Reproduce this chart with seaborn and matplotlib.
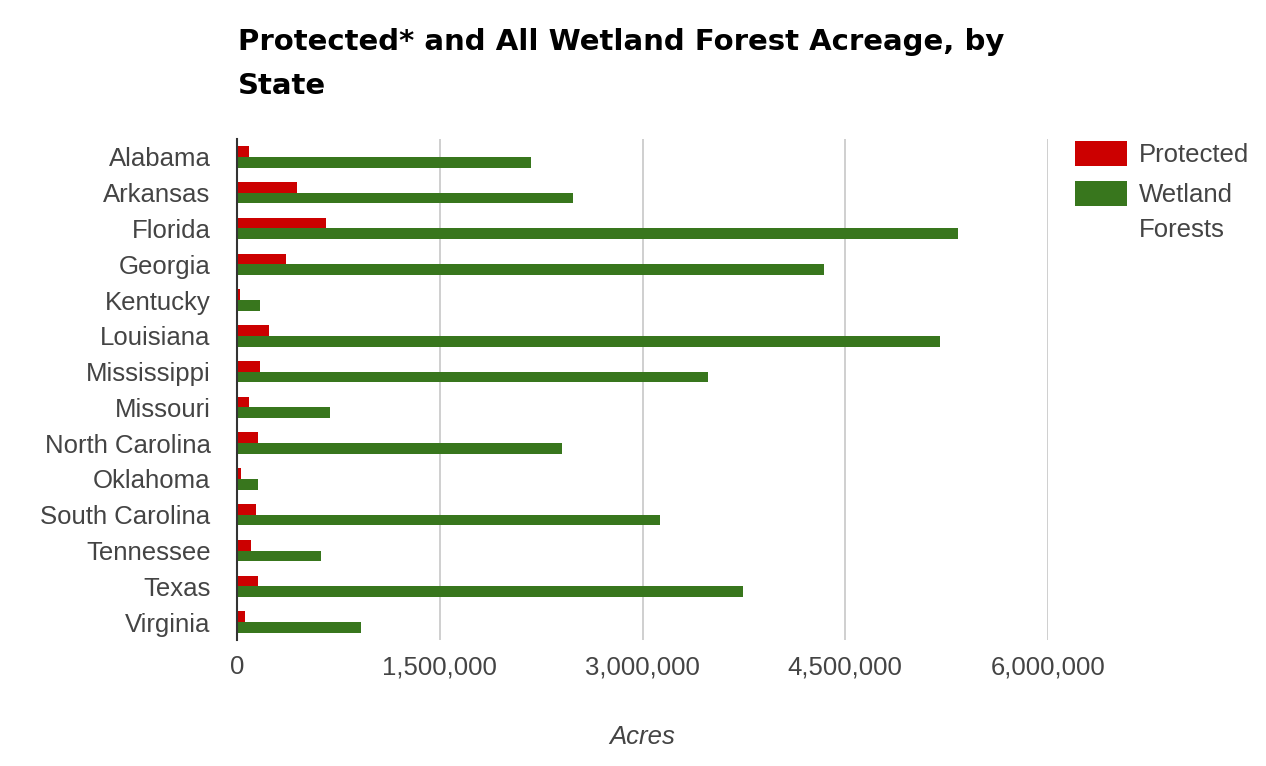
import matplotlib
matplotlib.use("Agg")
import matplotlib.pyplot as plt
import seaborn as sns
import pandas as pd
from matplotlib.ticker import FuncFormatter
from matplotlib.patches import Patch

states = ["Alabama", "Arkansas", "Florida", "Georgia", "Kentucky", "Louisiana",
          "Mississippi", "Missouri", "North Carolina", "Oklahoma", "South Carolina",
          "Tennessee", "Texas", "Virginia"]
protected = [89000, 443000, 655000, 365000, 22000, 236000, 170000, 89000,
             155000, 27000, 138000, 106000, 155000, 57000]
wetland = [2175000, 2483000, 5333000, 4345000, 170000, 5202000, 3488000, 687000,
           2401000, 155000, 3131000, 624000, 3746000, 916000]
series_names = ["Protected", "Wetland Forests"]
x_ticks = [0, 1500000, 3000000, 4500000, 6000000]
colors = ["#cc0000", "#38761d"]

df = pd.DataFrame({
    "State": states * 2,
    "Acres": protected + wetland,
    "Series": [series_names[0]] * len(states) + [series_names[1]] * len(states),
})

sns.set_theme(style="white")
plt.rcParams["font.family"] = ["Liberation Sans", "DejaVu Sans"]

FS = 18.5
W, H = 1266, 766
fig = plt.figure(figsize=(12.66, 7.66), dpi=100)
ax = fig.add_axes([237 / W, 1 - 640 / H, (1048 - 237) / W, (640 - 139) / H])

sns.barplot(data=df, y="State", x="Acres", hue="Series", orient="h",
            palette=colors, width=0.6, ax=ax, legend=False, saturation=1,
            linewidth=0)

ax.set_xlim(0, 6000000)
ax.set_xticks(x_ticks)
ax.xaxis.set_major_formatter(FuncFormatter(lambda v, p: f"{int(v):,}"))
ax.grid(axis="x", color="#cccccc", linewidth=1.3)
ax.set_axisbelow(True)
for s in ["top", "right", "bottom"]:
    ax.spines[s].set_visible(False)
ax.spines["left"].set_color("#333333")
ax.spines["left"].set_linewidth(1.5)
ax.tick_params(axis="both", length=0, colors="#444444", labelsize=FS)
ax.tick_params(axis="y", pad=19)
ax.tick_params(axis="x", pad=11)
ax.set_ylabel("")
ax.set_xlabel("Acres", style="italic", fontsize=FS, color="#444444", labelpad=33)

fig.text(238 / W, 1 - 28 / H, "Protected* and All Wetland Forest Acreage, by\nState",
         ha="left", va="top", fontsize=21, fontweight="bold", color="#000000",
         family=["DejaVu Sans"], linespacing=1.75)

handles = [Patch(facecolor=c, edgecolor="none") for c in colors]
leg = fig.legend(handles, ["Protected", "Wetland"], loc="upper left",
                 bbox_to_anchor=(1052 / W, 1 - 118 / H), frameon=False,
                 fontsize=FS, labelcolor="#444444", handlelength=2.0, handleheight=1.1,
                 handletextpad=0.5, labelspacing=0.55)

# second line of the "Wetland Forests" legend label, aligned under "Wetland"
fig.canvas.draw()
bb = leg.get_texts()[1].get_window_extent(fig.canvas.get_renderer())
fig.text(bb.x0 / W, (bb.y0 - 35 + bb.height / 2) / H, "Forests", ha="left", va="center",
         fontsize=FS, color="#444444")

fig.savefig("out.png", dpi=100, facecolor="white")
